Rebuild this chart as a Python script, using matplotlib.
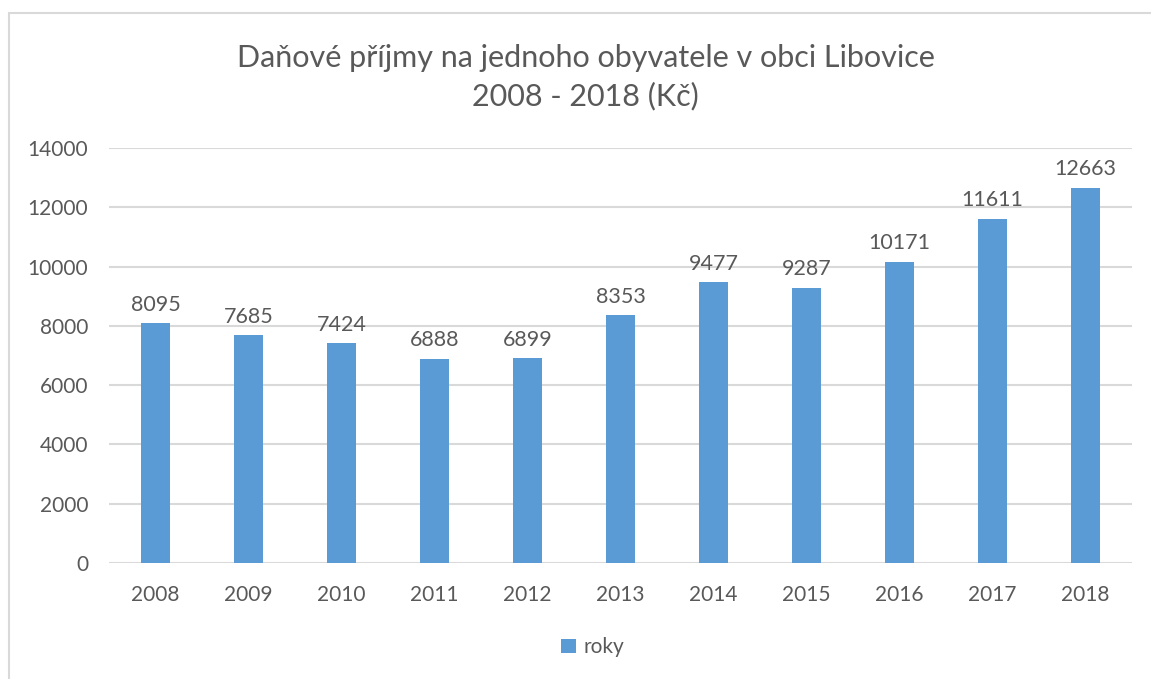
import matplotlib.pyplot as plt
from matplotlib.patches import Rectangle

years = ["2008", "2009", "2010", "2011", "2012", "2013",
         "2014", "2015", "2016", "2017", "2018"]
values = [8095, 7685, 7424, 6888, 6899, 8353, 9477, 9287, 10171, 11611, 12663]

bar_color = "#5B9BD5"
text_color = "#595959"
grid_color = "#D9D9D9"

plt.rcParams["font.family"] = ["Lato", "DejaVu Sans"]

fig = plt.figure(figsize=(11.51, 6.79), dpi=100)

# chart frame (Excel style)
fig.patches.append(Rectangle((9 / 1151, -0.1), 1.2, 1 - 13 / 679 + 0.1,
                             transform=fig.transFigure, fill=False,
                             edgecolor=grid_color, linewidth=1.5))

ax = fig.add_axes([109 / 1151, 1 - 563 / 679, (1132 - 109) / 1151, (563 - 148) / 679])

x = range(len(years))
bars = ax.bar(x, values, width=0.32, color=bar_color, label="roky", zorder=3)

for i, v in enumerate(values):
    ax.annotate(str(v), (i, v), xytext=(0, 6), textcoords="offset points",
                ha="center", va="bottom", fontsize=15.5, color=text_color)

ax.set_xlim(-0.5, len(years) - 0.5)
ax.set_ylim(0, 14000)
ax.set_yticks(range(0, 14001, 2000))
ax.set_xticks(list(x))
ax.set_xticklabels(years)

ax.yaxis.grid(True, color=grid_color, linewidth=1.5, zorder=0)
for s in ["top", "right", "left", "bottom"]:
    ax.spines[s].set_visible(False)
ax.tick_params(axis="both", length=0, labelsize=15, labelcolor=text_color)
ax.tick_params(axis="y", pad=15)
ax.tick_params(axis="x", pad=16)

fig.text(0.509, 0.886, "Daňové příjmy na jednoho obyvatele v obci Libovice\n2008 - 2018 (Kč)",
         ha="center", va="center", fontsize=22, color=text_color, linespacing=1.4)

fig.legend(handles=[bars], labels=["roky"], loc="center", bbox_to_anchor=(0.515, 0.047),
           frameon=False, fontsize=15, labelcolor=text_color,
           handlelength=0.7, handleheight=0.7, handletextpad=0.4)

fig.savefig("out.png", dpi=100)
